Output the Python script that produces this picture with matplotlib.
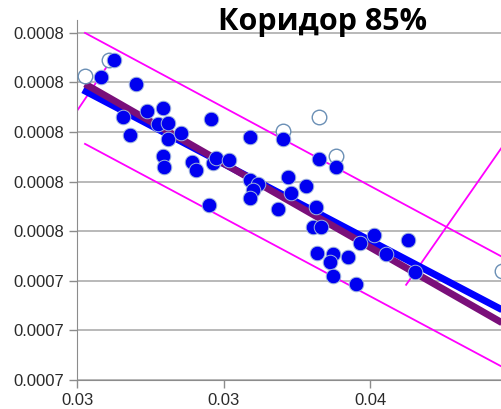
import matplotlib
matplotlib.use("Agg")
import matplotlib.pyplot as plt

# scatter points (filled)
x_pts = [0.025819, 0.026263, 0.027014, 0.026570, 0.026809, 0.027389, 0.027935,
         0.027765, 0.028106, 0.028106, 0.028550, 0.027935, 0.027969, 0.028925,
         0.029061, 0.029573, 0.029642, 0.029744, 0.030188, 0.029505, 0.030904,
         0.032031, 0.033259, 0.033840, 0.030904, 0.031178, 0.031007, 0.030904,
         0.032201, 0.032816, 0.032304, 0.031860, 0.033157, 0.033055, 0.033328,
         0.033191, 0.033737, 0.033635, 0.033737, 0.034249, 0.034522, 0.034659,
         0.035137, 0.035546, 0.036297, 0.036536]
y_pts = [0.0007811, 0.0007846, 0.0007797, 0.0007731, 0.0007694, 0.0007743, 0.0007749,
         0.0007717, 0.0007719, 0.0007686, 0.0007698, 0.0007652, 0.0007630, 0.0007640,
         0.0007624, 0.0007727, 0.0007638, 0.0007648, 0.0007644, 0.0007553, 0.0007690,
         0.0007686, 0.0007646, 0.0007630, 0.0007604, 0.0007596, 0.0007583, 0.0007567,
         0.0007610, 0.0007592, 0.0007577, 0.0007545, 0.0007549, 0.0007509, 0.0007509,
         0.0007456, 0.0007454, 0.0007438, 0.0007410, 0.0007448, 0.0007394, 0.0007477,
         0.0007493, 0.0007454, 0.0007483, 0.0007418]

# hollow points (outside corridor)
x_out = [0.025273, 0.026092, 0.032031, 0.033259, 0.033840, 0.039505]
y_out = [0.0007813, 0.0007846, 0.0007702, 0.0007731, 0.0007652, 0.0007420]

# lines: [x0, x1], [y0, y1]
trend_x = [0.025205, 0.039505]
trend_y = [0.0007785, 0.00073415]
fit_x = [0.025273, 0.039505]
fit_y = [0.0007797, 0.00073153]
upper_x = [0.025273, 0.039505]
upper_y = [0.00079, 0.00074484]
lower_x = [0.025273, 0.039505]
lower_y = [0.00076762, 0.00072266]
perp1_x = [0.025, 0.026126]
perp1_y = [0.00077427, 0.00078415]
perp2_x = [0.036229, 0.039505]
perp2_y = [0.0007392, 0.000767]

x_ticks = [0.025, 0.030, 0.035]
x_labels = ["0.03", "0.03", "0.04"]
y_ticks = [0.00079, 0.00078, 0.00077, 0.00076, 0.00075, 0.00074, 0.00073, 0.00072]
y_labels = ["0.0008", "0.0008", "0.0008", "0.0008", "0.0008", "0.0007", "0.0007", "0.0007"]

W, H = 502, 409
fig = plt.figure(figsize=(W / 100, H / 100), dpi=100)
ax = fig.add_axes([77 / W, (H - 380) / H, (W - 77) / W, (380 - 20) / H])

ax.set_xlim(0.025, 0.0395)
ax.set_ylim(0.00072, 0.0007926)

for t in y_ticks:
    ax.axhline(t, color="#a6a6a6", lw=1.1, zorder=0)

ax.plot(upper_x, upper_y, color="#ff00ff", lw=1.3, zorder=2)
ax.plot(lower_x, lower_y, color="#ff00ff", lw=1.3, zorder=2)
ax.plot(perp1_x, perp1_y, color="#ff00ff", lw=1.3, zorder=2)
ax.plot(perp2_x, perp2_y, color="#ff00ff", lw=1.3, zorder=2)

ax.plot(trend_x, trend_y, color="#0000ff", lw=5, solid_capstyle="butt", zorder=3)
ax.plot(fit_x, fit_y, color="#7a0f7a", lw=5, solid_capstyle="butt", zorder=3)

ax.scatter(x_out, y_out, s=110, facecolor="white", edgecolor="#6a8fb5", lw=1.0,
           zorder=4, clip_on=False)
ax.scatter(x_pts, y_pts, s=110, color="#0000f0", edgecolor="#9fb4dc", lw=0.7, zorder=5)

ax.set_xticks(x_ticks)
ax.set_xticklabels(x_labels)
ax.set_yticks(y_ticks)
ax.set_yticklabels(y_labels)
ax.tick_params(axis="both", labelsize=12, colors="#8c8c8c", labelcolor="#2a2a2a",
               length=6, width=1)
ax.tick_params(axis="y", pad=3)
for lab in ax.get_xticklabels() + ax.get_yticklabels():
    lab.set_family("Liberation Sans")

for side in ["top", "right"]:
    ax.spines[side].set_visible(False)
ax.spines["left"].set_color("#8c8c8c")
ax.spines["bottom"].set_color("#8c8c8c")

fig.text(323 / W, 1 - 22 / H, "Коридор 85%", ha="center", va="center",
         fontsize=22, fontweight="bold", family="Open Sans", color="black")

fig.savefig("out.png", dpi=100)
